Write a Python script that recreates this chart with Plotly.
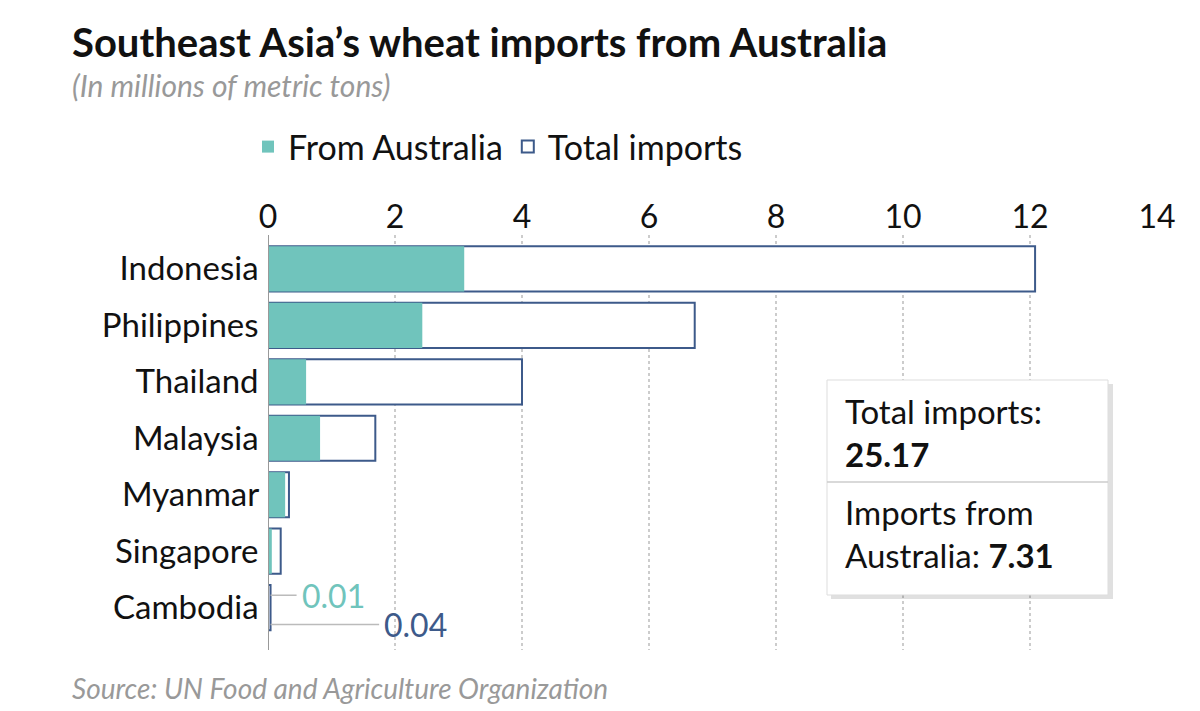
import plotly.graph_objects as go

countries = ["Indonesia", "Philippines", "Thailand", "Malaysia", "Myanmar", "Singapore", "Cambodia"]
total = [12.08, 6.72, 4.0, 1.69, 0.33, 0.2, 0.04]
australia = [3.09, 2.43, 0.6, 0.82, 0.27, 0.06, 0.01]
ticks = [0, 2, 4, 6, 8, 10, 12, 14]

W, H = 1200, 711
OFF = 8  # page body margin
L, R, T, B = 268 - OFF, 43 + OFF, 235 - OFF, 61 + OFF
pw, ph = W - L - R, H - T - B
def px(x): return (x - OFF - L) / pw
def py(y): return (H - B - (y - OFF)) / ph

TEAL = "#70c4bc"; NAVY = "#3d5a8a"; FONT = "Lato, sans-serif"

fig = go.Figure()
fig.add_bar(y=countries, x=total, orientation="h", name="Total imports",
            marker=dict(color="white", line=dict(color=NAVY, width=2)), width=0.8)
fig.add_bar(y=countries, x=australia, orientation="h", name="From Australia",
            marker=dict(color=TEAL, line=dict(width=0)), width=0.8)

shapes = [
    dict(type="line", xref="x", yref="paper", x0=0, x1=0, y0=0, y1=1, line=dict(color="#999", width=2)),
    dict(type="line", xref="x", yref="y", x0=0.04, x1=0.45, y0=5.78, y1=5.78, line=dict(color="#bbb", width=1.5)),
    dict(type="line", xref="x", yref="y", x0=0.04, x1=1.75, y0=6.3, y1=6.3, line=dict(color="#bbb", width=1.5)),
    dict(type="rect", xref="paper", yref="paper", x0=px(831), x1=px(1113), y0=py(599), y1=py(384),
         fillcolor="rgba(0,0,0,0.12)", line=dict(width=0), layer="above"),
    dict(type="rect", xref="paper", yref="paper", x0=px(827), x1=px(1108), y0=py(595), y1=py(380),
         fillcolor="white", line=dict(color="#ddd", width=1), layer="above"),
    dict(type="line", xref="paper", yref="paper", x0=px(827), x1=px(1108), y0=py(482), y1=py(482),
         line=dict(color="#ccc", width=1.5), layer="above"),
]

ann = [
    dict(x=0.5, y=5.78, xref="x", yref="y", text="0.01", showarrow=False, xanchor="left",
         font=dict(color=TEAL, size=32, family=FONT)),
    dict(x=1.8, y=6.3, xref="x", yref="y", text="0.04", showarrow=False, xanchor="left",
         font=dict(color=NAVY, size=32, family=FONT)),
    dict(x=px(843), y=py(432), xref="paper", yref="paper", xanchor="left", yanchor="middle", showarrow=False,
         align="left", text="Total imports:<br><b>25.17</b>", font=dict(size=33, color="#111", family=FONT)),
    dict(x=px(843), y=py(533), xref="paper", yref="paper", xanchor="left", yanchor="middle", showarrow=False,
         align="left", text="Imports from<br>Australia: <b>7.31</b>", font=dict(size=33, color="#111", family=FONT)),
    dict(x=px(70), y=py(42), xref="paper", yref="paper", xanchor="left", yanchor="middle", showarrow=False,
         text="<b>Southeast Asia’s wheat imports from Australia</b>", font=dict(size=40, color="#111", family=FONT)),
    dict(x=px(70), y=py(85), xref="paper", yref="paper", xanchor="left", yanchor="middle", showarrow=False,
         text="<i>(In millions of metric tons)</i>", font=dict(size=30, color="#999", family=FONT)),
    dict(x=px(70), y=py(688), xref="paper", yref="paper", xanchor="left", yanchor="middle", showarrow=False,
         text="<i>Source: UN Food and Agriculture Organization</i>", font=dict(size=28, color="#999", family=FONT)),
]
fig.update_layout(
    shapes=shapes, annotations=ann, width=W, height=H, margin=dict(l=L, r=R, t=T, b=B),
    plot_bgcolor="white", paper_bgcolor="white", barmode="overlay", bargap=0.2,
    font=dict(family=FONT, size=32, color="#111"),
    legend=dict(orientation="h", x=px(248), y=py(147), xanchor="left", yanchor="middle",
                traceorder="reversed", font=dict(size=34), itemwidth=30),
    xaxis=dict(side="top", range=[0, 14], tickvals=ticks, showgrid=True, gridcolor="#ccc",
               griddash="dot", gridwidth=1.5, zeroline=False, tickfont=dict(size=32, color="#111"), ticklen=0,
               showline=False),
    yaxis=dict(autorange=False, range=[6.75, -0.6], tickfont=dict(size=33, color="#111"), ticklen=0,
               ticksuffix=" ", showgrid=False),
)
fig.write_html("out.html")
